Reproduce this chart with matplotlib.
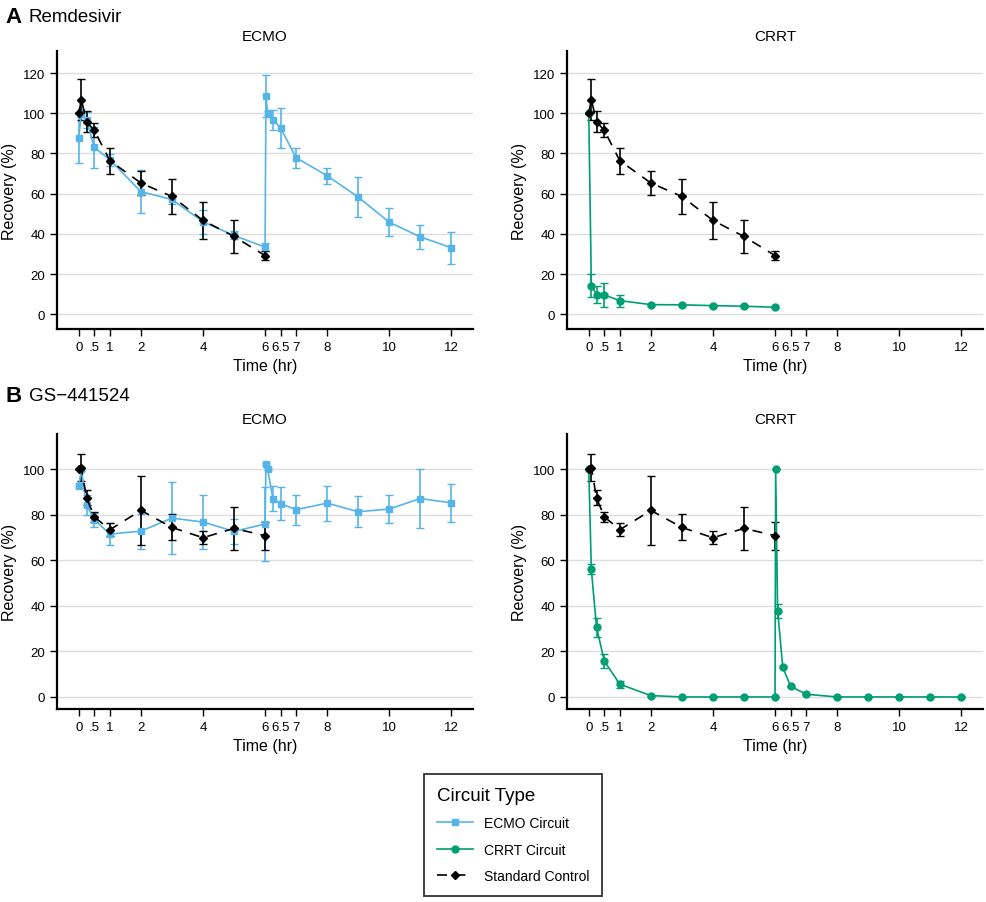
import matplotlib
matplotlib.use("Agg")
import matplotlib.pyplot as plt

plt.rcParams['font.family'] = ['Liberation Sans', 'DejaVu Sans']

# sampling times (hr)
ctrl_t = [0, 0.083, 0.25, 0.5, 1, 2, 3, 4, 5, 6]
redose_t = [0, 0.083, 0.25, 0.5, 1, 2, 3, 4, 5, 6,
            6.03, 6.083, 6.25, 6.5, 7, 8, 9, 10, 11, 12]
crrt_a_t = [0, 0.083, 0.25, 0.5, 1, 2, 3, 4, 5, 6]

# Remdesivir
rem_ctrl = [100, 106.8, 95.7, 91.5, 76.4, 65.3, 58.6, 46.7, 38.7, 29.2]
rem_ctrl_sd = [0, 10, 5.2, 3.4, 6.4, 5.8, 8.8, 9.2, 8.4, 2.1]
rem_ecmo = [87.9, 100, 96.5, 83, 76.9, 61, 57.1, 46, 39.2, 33.4,
            108.6, 100, 96.8, 92.7, 77.9, 68.9, 58.3, 45.8, 38.5, 33.1]
rem_ecmo_sd = [12.5, 2, 4, 10, 3, 10.6, 2, 6, 2, 2,
               10.5, 1, 5, 10, 5, 4, 10, 7, 6, 8]
rem_crrt = [100, 14.3, 9.8, 9.6, 6.8, 4.8, 4.7, 4.3, 4.0, 3.5]
rem_crrt_sd = [0, 5.5, 4.3, 5.8, 3, 0.5, 0.5, 0.5, 0.5, 0.5]

# GS-441524
gs_ctrl = [100, 100.6, 87.4, 79.1, 73.4, 81.9, 74.4, 69.9, 74, 70.8]
gs_ctrl_sd = [0, 6, 3.3, 2.1, 2.9, 15, 5.7, 2.8, 9.4, 6.2]
gs_ecmo = [92.7, 100, 84.2, 77.8, 71.5, 72.8, 78.5, 76.8, 72.7, 75.9,
           102.3, 100, 87.1, 84.9, 82.2, 85.1, 81.3, 82.5, 87.1, 85.2]
gs_ecmo_sd = [1, 1, 4.5, 3, 5, 7.7, 15.8, 11.9, 5.6, 16.4,
              0.5, 0.5, 5.5, 7.3, 6.6, 7.7, 6.9, 6, 12.9, 8.3]
gs_crrt_t = [0, 0.083, 0.25, 0.5, 1, 2, 3, 4, 5, 6,
             6.02, 6.083, 6.25, 6.5, 7, 8, 9, 10, 11, 12]
gs_crrt = [100, 56, 30.6, 15.8, 5.6, 0.6, 0, 0, 0, 0,
           100, 37.9, 13, 4.7, 1.2, 0, 0, 0, 0, 0]
gs_crrt_sd = [0, 2.2, 4.1, 2.9, 1.5, 0.3, 0, 0, 0, 0,
              0, 3.1, 0.5, 0.3, 0.2, 0, 0, 0, 0, 0]

xticks = [0, 0.5, 1, 2, 4, 6, 6.5, 7, 8, 10, 12]
xticklabels = ['0', '.5', '1', '2', '4', '6', '6.5', '7', '8', '10', '12']

BLUE = '#56B4E9'
GREEN = '#009E73'

fig = plt.figure(figsize=(9.87, 9.03), dpi=100)

W = 0.4215
axA1 = fig.add_axes([0.0578, 0.6346, W, 0.3079])
axA2 = fig.add_axes([0.5745, 0.6346, W, 0.3079])
axB1 = fig.add_axes([0.0578, 0.2137, W, 0.3045])
axB2 = fig.add_axes([0.5745, 0.2137, W, 0.3045])


def series(ax, t, y, sd, color, marker, ms, ls='-'):
    return ax.errorbar(t, y, yerr=sd, color=color, marker=marker, ms=ms,
                       ls=ls, lw=1.2, elinewidth=1.2, capsize=3, capthick=1,
                       dashes=(6, 5) if ls == '--' else (None, None))


def style(ax, title, ylim, yticks):
    ax.set_xlim(-0.7, 12.7)
    ax.set_ylim(*ylim)
    ax.set_xticks(xticks)
    ax.set_xticklabels(xticklabels)
    ax.set_yticks(yticks)
    ax.grid(axis='y', color='#dddddd', lw=1)
    ax.set_axisbelow(True)
    for s in ['top', 'right']:
        ax.spines[s].set_visible(False)
    for s in ['left', 'bottom']:
        ax.spines[s].set_linewidth(1.6)
    ax.tick_params(length=5, width=1, labelsize=9.5, direction='out')
    ax.set_xlabel('Time (hr)', fontsize=11.5)
    ax.set_ylabel('Recovery (%)', fontsize=11.5)
    ax.set_title(title, fontsize=11, pad=8)


# A: Remdesivir
h_ecmo = series(axA1, redose_t, rem_ecmo, rem_ecmo_sd, BLUE, 's', 5)
h_ctrl = series(axA1, ctrl_t, rem_ctrl, rem_ctrl_sd, 'black', 'D', 4, '--')
h_crrt = series(axA2, crrt_a_t, rem_crrt, rem_crrt_sd, GREEN, 'o', 5)
series(axA2, ctrl_t, rem_ctrl, rem_ctrl_sd, 'black', 'D', 4, '--')
style(axA1, 'ECMO', (-7.3, 131), range(0, 121, 20))
style(axA2, 'CRRT', (-7.3, 131), range(0, 121, 20))

# B: GS-441524
series(axB1, redose_t, gs_ecmo, gs_ecmo_sd, BLUE, 's', 5)
series(axB1, ctrl_t, gs_ctrl, gs_ctrl_sd, 'black', 'D', 4, '--')
series(axB2, gs_crrt_t, gs_crrt, gs_crrt_sd, GREEN, 'o', 5)
series(axB2, ctrl_t, gs_ctrl, gs_ctrl_sd, 'black', 'D', 4, '--')
style(axB1, 'ECMO', (-5.3, 115.4), range(0, 101, 20))
style(axB2, 'CRRT', (-5.3, 115.4), range(0, 101, 20))

fig.text(0.006, 0.981, 'A', fontsize=16, fontweight='bold', va='center')
fig.text(0.029, 0.981, 'Remdesivir', fontsize=13.5, va='center')
fig.text(0.006, 0.561, 'B', fontsize=16, fontweight='bold', va='center')
fig.text(0.029, 0.561, 'GS\u2212441524', fontsize=13.5, va='center')

leg = fig.legend([h_ecmo.lines[0], h_crrt.lines[0], h_ctrl.lines[0]],
                 ['ECMO Circuit', 'CRRT Circuit', 'Standard Control'],
                 title='Circuit Type', loc='center',
                 bbox_to_anchor=(513 / 987, 1 - 836 / 903),
                 fontsize=10, title_fontsize=13.5, frameon=True,
                 fancybox=False, edgecolor='black', handlelength=2.6,
                 borderpad=0.9, labelspacing=0.9, alignment='left')
leg.get_frame().set_linewidth(1.3)

fig.savefig('out.png', dpi=100)
